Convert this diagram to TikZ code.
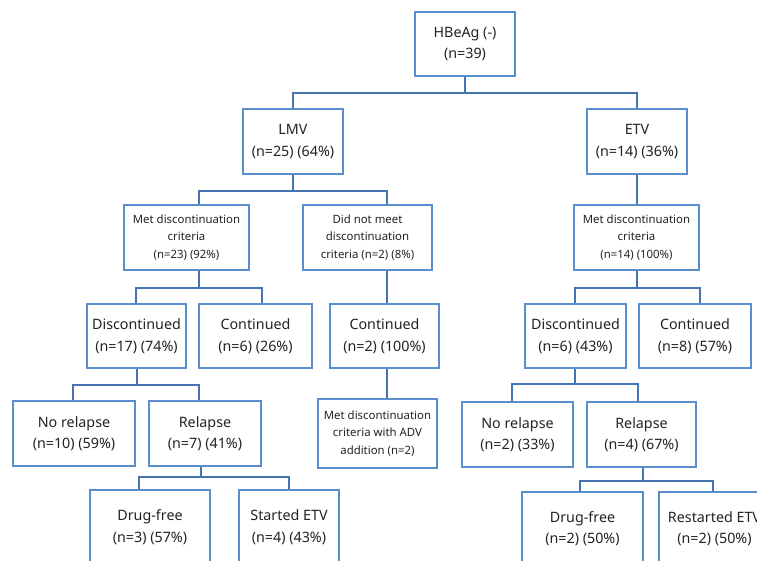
\documentclass[tikz,border=0pt]{standalone}
\usepackage{fontspec}
\setmainfont{Noto Sans}
\definecolor{boxblue}{RGB}{90,142,204}
\definecolor{linkblue}{RGB}{70,116,176}
\definecolor{txt}{RGB}{35,35,35}
\tikzset{
  box/.style={draw=boxblue, line width=2pt, fill=white, align=center, inner sep=0pt, text=txt,
    font=\fontsize{14.3}{21.5}\selectfont},
  smallbox/.style={box, font=\fontsize{11.4}{17.5}\selectfont},
  conn/.style={draw=linkblue, line width=2pt}
}
\begin{document}
\begin{tikzpicture}[x=1pt,y=1pt]
\useasboundingbox (0,0) rectangle (757,-561);
\clip (0,0) rectangle (757,-561);
\coordinate (b1) at (465,-93);
\coordinate (b2) at (293,-191);
\coordinate (b3) at (199,-288);
\coordinate (b4) at (637,-288);
\coordinate (b5) at (137,-385);
\coordinate (b6) at (575,-384);
\coordinate (b7) at (201,-477);
\coordinate (b8) at (643,-481);

\node[box, minimum width=100pt, minimum height=64pt] (hb) at (465,-44) {HBeAg (-)\\(n=39)};
\node[box, minimum width=100pt, minimum height=65pt] (lmv) at (293,-141.5) {LMV\\(n=25) (64\%)};
\node[box, minimum width=100pt, minimum height=65pt] (etv) at (637,-141.5) {ETV\\(n=14) (36\%)};
\node[smallbox, minimum width=125pt, minimum height=65pt] (metl) at (186.5,-237.5) {Met discontinuation\\criteria\\(n=23) (92\%)};
\node[smallbox, minimum width=129pt, minimum height=65pt] (didn) at (367.5,-237.5) {Did not meet\\discontinuation\\criteria (n=2) (8\%)};
\node[smallbox, minimum width=125pt, minimum height=65pt] (mete) at (636.5,-237.5) {Met discontinuation\\criteria\\(n=14) (100\%)};
\node[box, minimum width=99pt, minimum height=64pt] (discl) at (136.5,-336) {Discontinued\\(n=17) (74\%)};
\node[box, minimum width=113pt, minimum height=64pt] (contl) at (255.5,-336) {Continued\\(n=6) (26\%)};
\node[box, minimum width=109pt, minimum height=64pt] (cont2) at (384.5,-336) {Continued\\(n=2) (100\%)};
\node[box, minimum width=101pt, minimum height=64pt] (disce) at (575.5,-336) {Discontinued\\(n=6) (43\%)};
\node[box, minimum width=112pt, minimum height=64pt] (conte) at (695,-336) {Continued\\(n=8) (57\%)};
\node[box, minimum width=122pt, minimum height=65pt] (norl) at (74,-433.5) {No relapse\\(n=10) (59\%)};
\node[box, minimum width=112pt, minimum height=65pt] (rell) at (205,-433.5) {Relapse\\(n=7) (41\%)};
\node[smallbox, minimum width=119pt, minimum height=69pt] (adv) at (377.5,-433.5) {Met discontinuation\\criteria with ADV\\addition (n=2)};
\node[box, minimum width=111pt, minimum height=65pt] (nore) at (517.5,-434.5) {No relapse\\(n=2) (33\%)};
\node[box, minimum width=109pt, minimum height=65pt] (rele) at (641.5,-434.5) {Relapse\\(n=4) (67\%)};
\node[box, minimum width=120pt, minimum height=74pt] (dfl) at (150,-527) {Drug-free\\(n=3) (57\%)};
\node[box, minimum width=100pt, minimum height=74pt] (setv) at (289,-527) {Started ETV\\(n=4) (43\%)};
\node[box, minimum width=121pt, minimum height=73pt] (dfe) at (582.5,-528.5) {Drug-free\\(n=2) (50\%)};
\node[box, minimum width=111pt, minimum height=73pt] (retv) at (714.5,-528.5) {Restarted ETV\\(n=2) (50\%)};

\draw[conn] (hb.south) -- (b1);
\draw[conn] (lmv.north) |- (b1) -| (etv.north);
\draw[conn] (lmv.south) -- (b2);
\draw[conn] ([xshift=12.5]metl.north) |- (b2) -| ([xshift=19.5]didn.north);
\draw[conn] (etv.south) -- (etv.south |- mete.north);
\draw[conn] ([xshift=12.5]metl.south) -- (b3);
\draw[conn] ([xshift=-0.5]discl.north) |- (b3) -| ([xshift=6.5]contl.north);
\draw[conn] ([xshift=19.5]didn.south) -- ([xshift=2.5]cont2.north);
\draw[conn] ([xshift=0.5]mete.south) -- (b4);
\draw[conn] ([xshift=-0.5]disce.north) |- (b4) -| ([xshift=5]conte.north);
\draw[conn] ([xshift=0.5]discl.south) -- (b5);
\draw[conn] ([xshift=-1]norl.north) |- (b5) -| ([xshift=-6]rell.north);
\draw[conn] ([xshift=2.5]cont2.south) -- ([xshift=9.5]adv.north);
\draw[conn] ([xshift=-0.5]disce.south) -- (b6);
\draw[conn] ([xshift=-5.5]nore.north) |- (b6) -| ([xshift=-3.5]rele.north);
\draw[conn] ([xshift=-4]rell.south) -- (b7);
\draw[conn] ([xshift=-11]dfl.north) |- (b7) -| (setv.north);
\draw[conn] ([xshift=1.5]rele.south) -- (b8);
\draw[conn] ([xshift=-2.5]dfe.north) |- (b8) -| ([xshift=-1.5]retv.north);
\end{tikzpicture}
\end{document}
